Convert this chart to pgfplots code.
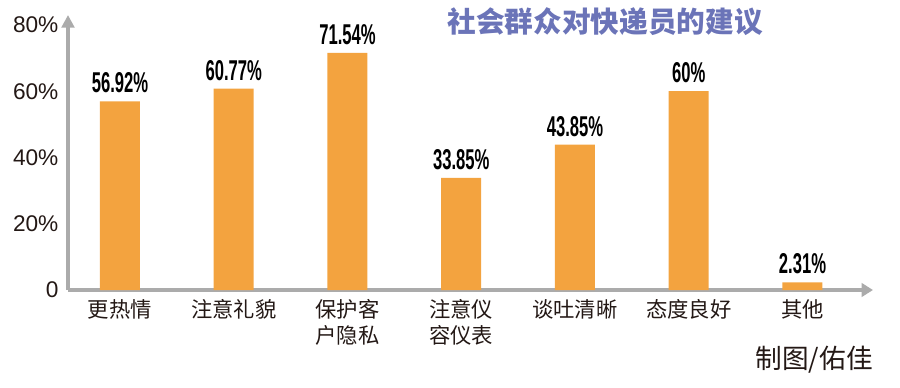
\documentclass[border=0pt]{standalone}
\usepackage{pgfplots}
\pgfplotsset{compat=1.18}
\usepackage{fontspec}
\setmainfont{Liberation Sans}
\newfontfamily\cjk{Noto Sans CJK SC}
\usetikzlibrary{arrows.meta}
\definecolor{barorange}{HTML}{F3A33F}
\definecolor{axisgray}{HTML}{ABABAB}
\definecolor{titleblue}{HTML}{6B74B8}
\definecolor{txt}{HTML}{231815}
\begin{document}
\begin{tikzpicture}[x=0.75pt,y=0.75pt]
\useasboundingbox (0,0) rectangle (900,387);
\coordinate (O) at (68,97);
\begin{axis}[
  at={(O)}, anchor=south west,
  scale only axis, width=603.75pt, height=206.25pt,
  xmin=-0.457, xmax=6.62, ymin=0, ymax=83,
  axis lines=left,
  axis line style={draw=axisgray, line width=3pt},
  x axis line style={-{Triangle[length=8.5pt,width=10pt]}},
  y axis line style={-{Triangle[length=9.5pt,width=9.5pt]}},
  major tick length=0pt,
  xtick={0,1,2,3,4,5,6},
  xticklabels={更热情,注意礼貌,保护客\\户隐私,注意仪\\容仪表,谈吐清晰,态度良好,其他},
  xticklabel style={font=\cjk\fontsize{16}{19}\selectfont, text=txt, align=center, inner sep=0pt, yshift=-7pt},
  ytick={0,20,40,60,80},
  yticklabels={0,20\%,40\%,60\%,80\%},
  yticklabel style={font=\fontsize{17}{17}\selectfont, text=txt, inner sep=0pt, xshift=-7pt},
  ybar, bar width=30pt,
  clip=false,
  point meta=y,
  nodes near coords={\scalebox{0.58}[1]{\pgfmathprintnumber[assume math mode=true]{\pgfplotspointmeta}\%}},
  nodes near coords style={font=\bfseries\fontsize{21.5}{21.5}\selectfont, text=black, anchor=south, inner sep=0pt, yshift=6pt},
]
\addplot[fill=barorange, draw=none] coordinates {
  (0,56.92) (1,60.77) (2,71.54) (3,33.85) (4,43.85) (5,60) (6,2.31)
};
\end{axis}
\node[font=\cjk\bfseries\fontsize{21.5}{21.5}\selectfont, text=titleblue] at (605,365) {社会群众对快递员的建议};
\node[font=\cjk\fontsize{20}{20}\selectfont, text=txt, anchor=east, inner sep=0pt] at (873,27) {制图/佑佳};
\end{tikzpicture}
\end{document}
